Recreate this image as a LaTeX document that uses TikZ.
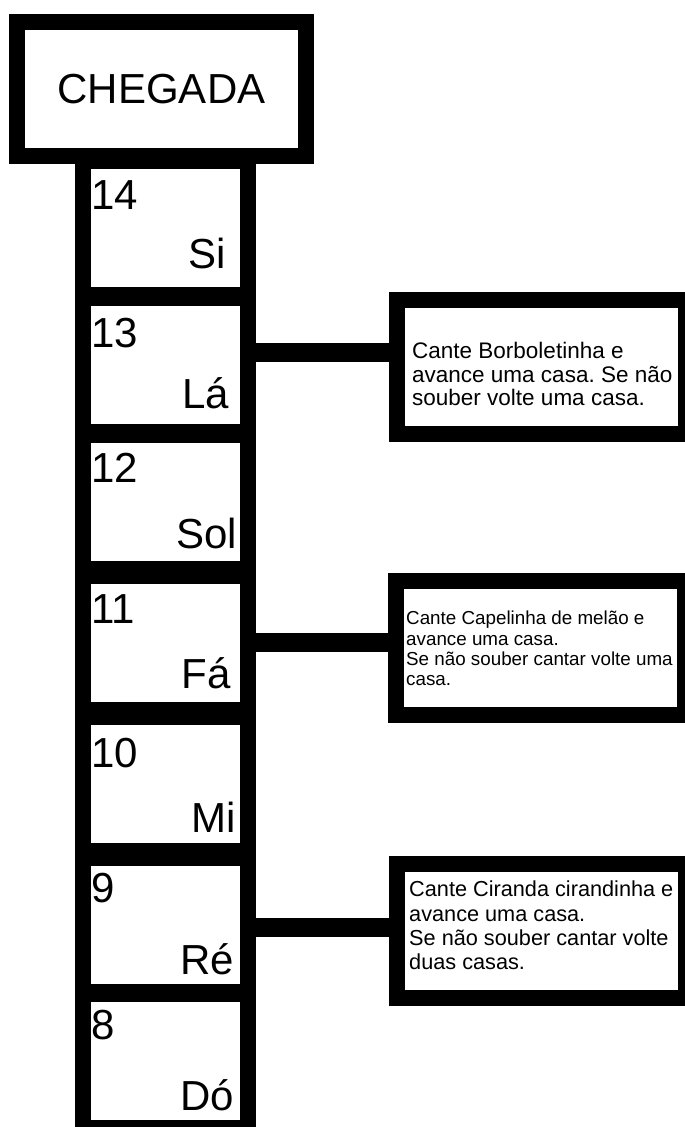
\documentclass[tikz,border=0pt]{standalone}
\usepackage{fontspec}
\setmainfont{Liberation Sans}
\frenchspacing

\tikzset{
  casa/.style={draw, line width=16pt, minimum width=165pt, minimum height=134pt, inner sep=0pt, outer sep=0pt},
  aviso/.style={draw, line width=16pt, minimum width=289pt, minimum height=134pt, inner sep=0pt, outer sep=0pt},
  num/.style={anchor=north west, inner sep=0pt, font=\fontsize{42}{50}\selectfont, xshift=8pt, yshift=-19pt},
  nome/.style={anchor=base east, inner sep=0pt, font=\fontsize{42}{50}\selectfont, xshift=-12pt, yshift=20pt},
  texto/.style={anchor=north west, align=left, inner sep=0pt},
  liga/.style={line width=19pt},
}

\begin{document}
\begin{tikzpicture}[x=1pt, y=-1pt]
\useasboundingbox (0,0) rectangle (685,1127);

\node[aviso, font=\fontsize{42}{50}\selectfont] (chegada) at (161.5,89) {CHEGADA};

\node[casa, label={[num, yshift=-1pt]north west:14}, label={[nome, xshift=-10pt, yshift=6pt]south east:Si}] (c14) at (165.5,227.5) {};
\node[casa, label={[num, yshift=-1pt]north west:13}, label={[nome, xshift=-7pt, yshift=4pt]south east:Lá}] (c13) at (165.5,365) {};
\node[casa, label={[num, yshift=1pt]north west:12}, label={[nome, xshift=1pt, yshift=1pt]south east:Sol}] (c12) at (165.5,502) {};
\node[casa, label={[num]north west:11}, label={[nome, xshift=-5pt, yshift=1pt]south east:Fá}] (c11) at (165.5,642.5) {};
\node[casa, label={[num, yshift=-2pt]north west:10}, label={[nome, yshift=-2pt]south east:Mi}] (c10) at (165.5,783.5) {};
\node[casa, label={[num, yshift=4pt]north west:9}, label={[nome, xshift=-2pt, yshift=-3pt]south east:Ré}] (c9) at (165.5,924.5) {};
\node[casa, label={[num, yshift=3pt]north west:8}, label={[nome, xshift=-1.5pt, yshift=-2pt]south east:Dó}] (c8) at (165.5,1061) {};

\node[aviso] (n13) at (541.5,367) {};
\node[aviso] (n11) at (540.5,648) {};
\node[aviso] (n9) at (541,931) {};

\node[texto, font=\fontsize{22.5}{23.5}\selectfont] (t13) at (412,342) {Cante Borboletinha e\\avance uma casa. Se não\\souber volte uma casa.};
\node[texto, font=\fontsize{18.8}{20.3}\selectfont] (t11) at (406,611) {Cante Capelinha de melão e\\avance uma casa.\\Se não souber cantar volte uma\\casa.};
\node[texto, font=\fontsize{21.7}{24.3}\selectfont] (t9) at (409,881) {Cante Ciranda cirandinha e\\avance uma casa.\\Se não souber cantar volte\\duas casas.};

\draw[liga] ([yshift=12.5pt]c13.east) -- ([yshift=14.5pt]n13.west);
\draw[liga] (c11.east) -- ([yshift=5.5pt]n11.west);
\draw[liga] ([yshift=-3pt]c9.east) -- ([yshift=3.5pt]n9.west);
\end{tikzpicture}
\end{document}
